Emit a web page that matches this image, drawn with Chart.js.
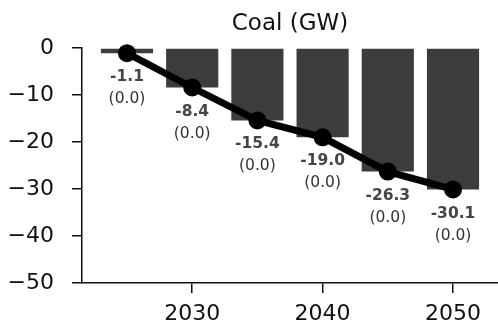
<!DOCTYPE html>
<html>
<head>
<meta charset="utf-8">
<script src="https://cdn.jsdelivr.net/npm/chart.js@4.4.1/dist/chart.umd.min.js"></script>
<style>
  html, body { margin: 0; padding: 0; background: #fff; }
  #wrap { width: 498px; height: 326px; }
</style>
</head>
<body>
<div id="wrap"><canvas id="c" width="498" height="326"></canvas></div>
<script>
// Coal capacity change by milestone year (GW)
const years = [2025, 2030, 2035, 2040, 2045, 2050];
const coalChange = [-1.1, -8.4, -15.4, -19.0, -26.3, -30.1];
const coalSpread = [0.0, 0.0, 0.0, 0.0, 0.0, 0.0];
const xTickValues = [2030, 2040, 2050];
const yTickValues = [0, -10, -20, -30, -40, -50];

const FONT = "'DejaVu Sans', sans-serif";
const minus = v => (v < 0 ? '\u2212' + Math.abs(v) : String(v));

const points = years.map((y, i) => ({ x: y, y: coalChange[i] }));

// Value labels under each marker: bold change, spread in brackets below
const valueLabels = {
  id: 'valueLabels',
  afterDatasetsDraw(chart) {
    const meta = chart.getDatasetMeta(1);
    const ctx = chart.ctx;
    ctx.save();
    ctx.textAlign = 'center';
    ctx.textBaseline = 'middle';
    meta.data.forEach((pt, i) => {
      ctx.font = 'bold 15.5px ' + FONT;
      ctx.fillStyle = '#454545';
      ctx.fillText(coalChange[i].toFixed(1), pt.x, pt.y + 24);
      ctx.font = '15.5px ' + FONT;
      ctx.fillStyle = '#333333';
      ctx.fillText('(' + coalSpread[i].toFixed(1) + ')', pt.x, pt.y + 46);
    });
    ctx.restore();
  }
};

new Chart(document.getElementById('c'), {
  type: 'bar',
  data: {
    datasets: [
      {
        type: 'bar',
        data: points,
        backgroundColor: '#3c3c3c',
        borderWidth: 0,
        categoryPercentage: 0.8,
        barPercentage: 1.0,
        order: 2
      },
      {
        type: 'line',
        data: points,
        borderColor: '#000',
        backgroundColor: '#000',
        borderWidth: 7,
        pointRadius: 9,
        pointBackgroundColor: '#000',
        pointBorderWidth: 0,
        tension: 0,
        clip: false,
        order: 1
      }
    ]
  },
  options: {
    responsive: false,
    animation: false,
    devicePixelRatio: 1,
    layout: { padding: 0, autoPadding: false },
    plugins: {
      legend: { display: false },
      tooltip: { enabled: false },
      title: {
        display: true,
        text: 'Coal (GW)',
        fullSize: false,
        color: '#111',
        font: { family: FONT, size: 23, weight: 'normal', lineHeight: 1.2 },
        padding: { top: 10, bottom: 10.4 }
      }
    },
    scales: {
      x: {
        type: 'linear',
        min: 2021.55,
        max: 2053.45,
        offset: false,
        afterBuildTicks: s => { s.ticks = xTickValues.map(v => ({ value: v })); },
        afterFit: s => { s.height = 43; s.paddingLeft = 0; s.paddingRight = 0; },
        ticks: {
          color: '#111',
          font: { family: FONT, size: 22 },
          padding: 8,
          maxRotation: 0,
          callback: v => String(v)
        },
        grid: { offset: false, drawOnChartArea: false, drawTicks: true, tickLength: 10, color: '#111', lineWidth: 1.5 },
        border: { display: true, color: '#111', width: 1.5 }
      },
      y: {
        min: -50,
        max: 0,
        afterBuildTicks: s => { s.ticks = yTickValues.map(v => ({ value: v })); },
        afterFit: s => { s.width = 82; s.paddingTop = 0; s.paddingBottom = 0; },
        ticks: {
          color: '#111',
          font: { family: FONT, size: 22 },
          padding: 18,
          callback: v => minus(v)
        },
        grid: { drawOnChartArea: false, drawTicks: true, tickLength: 10, color: '#111', lineWidth: 1.5 },
        border: { display: true, color: '#111', width: 1.5 }
      }
    }
  },
  plugins: [valueLabels]
});
</script>
</body>
</html>
